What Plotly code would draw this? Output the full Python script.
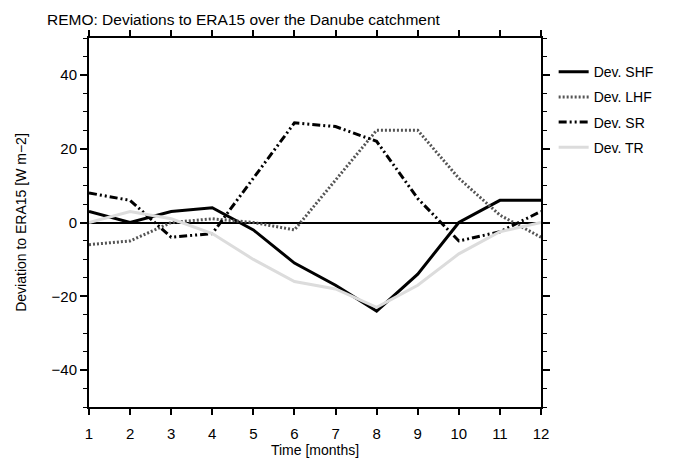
import plotly.graph_objects as go

months = [1, 2, 3, 4, 5, 6, 7, 8, 9, 10, 11, 12]
dev_shf = [3, 0, 3, 4, -2, -11, -17, -24, -14, 0, 6, 6]
dev_lhf = [-6, -5, 0, 1, 0, -2, 11.5, 25, 25, 12, 2, -4]
dev_sr = [8, 6, -4, -3, 12, 27, 26, 22, 6.5, -5, -2.5, 3]
dev_tr = [0, 3, 1, -3, -10, -16, -18, -23, -17, -8.5, -2.5, 0]

series = [
    ("Dev. SHF", dev_shf, dict(color="black", width=3, dash="solid")),
    ("Dev. LHF", dev_lhf, dict(color="#555555", width=3, dash="2px,2px")),
    ("Dev. SR", dev_sr, dict(color="black", width=3, dash="8px,3px,2px,3px,2px,3px")),
    ("Dev. TR", dev_tr, dict(color="#dcdcdc", width=3, dash="solid")),
]

FONT = "Liberation Sans"
OFF = 8  # page body margin

fig = go.Figure()
for i, (name, vals, line) in enumerate(series):
    fig.add_trace(go.Scatter(x=months, y=vals, mode="lines", name=name,
                             line=line, legendgroup=f"g{i}"))

fig.update_layout(
    width=679, height=463,
    margin=dict(l=84 - OFF, r=679 - 541 + OFF, t=38 - OFF, b=463 - 407 + OFF),
    paper_bgcolor="white", plot_bgcolor="white",
    font=dict(family=FONT, color="black", size=13),
    title=dict(text="REMO: Deviations to ERA15 over the Danube catchment",
               x=(47 - OFF) / 679, xanchor="left", xref="container",
               y=1 - (20 - OFF) / 463, yanchor="middle", yref="container",
               font=dict(size=15.5, family=FONT, color="black")),
    legend=dict(x=1.028, xanchor="left", y=0.951, yanchor="top",
                traceorder="grouped", tracegroupgap=4,
                font=dict(size=14, family=FONT), bgcolor="rgba(0,0,0,0)"),
    showlegend=True,
)

fig.update_xaxes(
    range=[1, 12], tick0=1, dtick=1,
    showgrid=False, zeroline=False,
    showline=True, linecolor="black", linewidth=2, mirror="ticks",
    ticks="outside", ticklen=6, tickwidth=1.5, tickcolor="black",
    tickfont=dict(size=15), ticklabelstandoff=6,
    title=dict(text="Time [months]", font=dict(size=14), standoff=4),
)
fig.update_yaxes(
    range=[-50, 50], tick0=0, dtick=20,
    showgrid=False,
    zeroline=True, zerolinecolor="black", zerolinewidth=1.5,
    showline=True, linecolor="black", linewidth=2, mirror="ticks",
    ticks="outside", ticklen=7, tickwidth=1.5, tickcolor="black",
    minor=dict(dtick=5, ticks="outside", ticklen=4, tickwidth=1, tickcolor="black"),
    tickfont=dict(size=15),
    title=dict(text="Deviation to ERA15 [W m\u22122]", font=dict(size=14), standoff=22),
)

fig.write_html("out.html")
